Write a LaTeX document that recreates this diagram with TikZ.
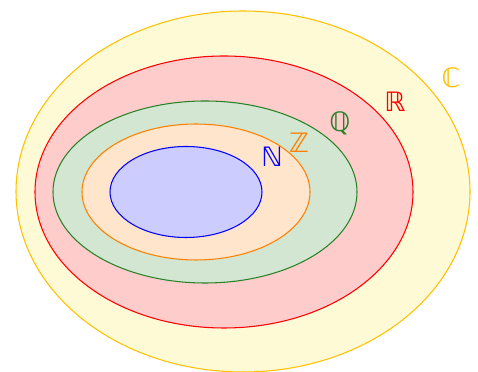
\documentclass[tikz,border=0pt]{standalone}
\usepackage{fontspec}
\newfontfamily\bbfont{DejaVu Sans}

\definecolor{gold}{RGB}{255,192,0}
\definecolor{goldfill}{RGB}{255,250,214}
\definecolor{setgreen}{RGB}{40,130,40}
\definecolor{greenfill}{RGB}{210,230,210}

\begin{document}
\begin{tikzpicture}[x=0.025cm, y=0.025cm, setlabel/.style={font=\bbfont\fontsize{19}{22}\selectfont}]
\useasboundingbox (0,0) rectangle (478,372);
% nested sets, biggest first
\foreach \cx/\cy/\rx/\ry/\col/\fil in {243/180.5/227/180.5/gold/goldfill, 224/180/189/136/red/red!20, 205/180/152/91/setgreen/greenfill, 196/180/114/68/orange/orange!20, 186/180/76/45.5/blue/blue!20} {
    \filldraw[draw=\col, fill=\fil, line width=0.75pt] (\cx,\cy) ellipse [x radius=\rx, y radius=\ry];
}
\node[setlabel, text=gold] (C) at (451,294) {ℂ};
\node[setlabel, text=red] (R) at (395,270) {ℝ};
\node[setlabel, text=setgreen] (Q) at (340,249) {ℚ};
\node[setlabel, text=orange] (Z) at (299,229) {ℤ};
\node[setlabel, text=blue] (N) at (272,215) {ℕ};
\end{tikzpicture}
\end{document}
